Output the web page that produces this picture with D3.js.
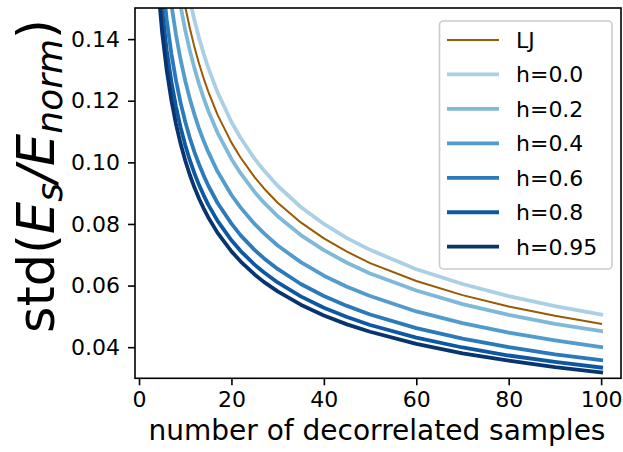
<!DOCTYPE html>
<html>
<head>
<meta charset="utf-8">
<script src="https://cdn.jsdelivr.net/npm/d3@7/dist/d3.min.js"></script>
<style>
  html, body { margin: 0; padding: 0; background: #fff; }
  svg { display: block; font-family: "DejaVu Sans", sans-serif; }
</style>
</head>
<body>
<svg id="chart" width="623" height="452"></svg>
<script>
// Number of decorrelated samples at which each curve is sampled
const samples = [4, 5, 6, 7, 8, 9, 10, 11, 12, 13, 14, 15, 17, 20, 22, 25, 27, 30, 35, 40, 45, 50, 60, 70, 80, 90, 100];

// std(E_s / E_norm) for each series
const lj   = [0.238, 0.2129, 0.1943, 0.1799, 0.1683, 0.1587, 0.1505, 0.1435, 0.1374, 0.1320, 0.1272, 0.1229, 0.1154, 0.1064, 0.1015, 0.0952, 0.0916, 0.0869, 0.0805, 0.0753, 0.0710, 0.0673, 0.0615, 0.0569, 0.0532, 0.0502, 0.0476];
const h000 = [0.253, 0.2263, 0.2066, 0.1912, 0.1789, 0.1687, 0.1600, 0.1526, 0.1461, 0.1403, 0.1352, 0.1306, 0.1227, 0.1131, 0.1079, 0.1012, 0.0974, 0.0924, 0.0855, 0.0800, 0.0754, 0.0716, 0.0653, 0.0605, 0.0566, 0.0533, 0.0506];
const h020 = [0.226, 0.2021, 0.1845, 0.1708, 0.1598, 0.1507, 0.1429, 0.1363, 0.1305, 0.1254, 0.1208, 0.1167, 0.1096, 0.1011, 0.0964, 0.0904, 0.0870, 0.0825, 0.0764, 0.0715, 0.0674, 0.0639, 0.0584, 0.0540, 0.0505, 0.0476, 0.0452];
const h040 = [0.200, 0.1789, 0.1633, 0.1512, 0.1414, 0.1333, 0.1265, 0.1206, 0.1155, 0.1109, 0.1069, 0.1033, 0.0970, 0.0894, 0.0853, 0.0800, 0.0770, 0.0730, 0.0676, 0.0632, 0.0596, 0.0566, 0.0516, 0.0478, 0.0447, 0.0422, 0.0400];
const h060 = [0.179, 0.1601, 0.1462, 0.1353, 0.1266, 0.1193, 0.1132, 0.1079, 0.1033, 0.0993, 0.0957, 0.0924, 0.0868, 0.0801, 0.0763, 0.0716, 0.0689, 0.0654, 0.0605, 0.0566, 0.0534, 0.0506, 0.0462, 0.0428, 0.0400, 0.0377, 0.0358];
const h080 = [0.167, 0.1494, 0.1364, 0.1262, 0.1181, 0.1113, 0.1056, 0.1007, 0.0964, 0.0926, 0.0893, 0.0862, 0.0810, 0.0747, 0.0712, 0.0668, 0.0643, 0.0610, 0.0565, 0.0528, 0.0498, 0.0472, 0.0431, 0.0399, 0.0373, 0.0352, 0.0334];
const h095 = [0.159, 0.1422, 0.1298, 0.1202, 0.1124, 0.1060, 0.1006, 0.0959, 0.0918, 0.0882, 0.0850, 0.0821, 0.0771, 0.0711, 0.0678, 0.0636, 0.0612, 0.0581, 0.0538, 0.0503, 0.0474, 0.0450, 0.0411, 0.0380, 0.0356, 0.0335, 0.0318];

const seriesNames  = ["LJ", "h=0.0", "h=0.2", "h=0.4", "h=0.6", "h=0.8", "h=0.95"];
const seriesValues = [lj, h000, h020, h040, h060, h080, h095];
const seriesColors = ["#9b5a02", "#abd0e6", "#7fb9da", "#519ccc", "#2b79b9", "#0e58a2", "#08346f"];
const seriesWidths = [2, 3.8, 3.8, 3.8, 3.8, 3.8, 3.8];

const xTicks = [0, 20, 40, 60, 80, 100];
const yTicks = [0.04, 0.06, 0.08, 0.10, 0.12, 0.14];

const svg = d3.select("#chart");
const plotLeft = 135, plotRight = 621, plotTop = 8, plotBottom = 378.3;

const x = d3.scaleLinear().domain([-0.87, 104.3]).range([plotLeft, plotRight]);
const y = d3.scaleLinear().domain([0.0299, 0.1501]).range([plotBottom, plotTop]);

svg.append("defs").append("clipPath").attr("id", "plotClip")
  .append("rect").attr("x", plotLeft).attr("y", plotTop)
  .attr("width", plotRight - plotLeft).attr("height", plotBottom - plotTop);

const line = d3.line()
  .x((d, i) => x(samples[i]))
  .y(d => y(d));

// Draw the blues first (lightest to darkest), then LJ on top
const order = [1, 2, 3, 4, 5, 6, 0];
const plot = svg.append("g").attr("clip-path", "url(#plotClip)");
order.forEach(k => {
  plot.append("path")
    .datum(seriesValues[k])
    .attr("d", line)
    .attr("fill", "none")
    .attr("stroke", seriesColors[k])
    .attr("stroke-width", seriesWidths[k])
    .attr("stroke-linecap", "square")
    .attr("stroke-linejoin", "round");
});

// Axes
const xAxis = d3.axisBottom(x).tickValues(xTicks).tickSize(7).tickPadding(6).tickFormat(d3.format("d"));
const yAxis = d3.axisLeft(y).tickValues(yTicks).tickSize(7).tickPadding(8).tickFormat(d3.format(".2f"));

const gx = svg.append("g").attr("transform", `translate(0,${plotBottom})`).call(xAxis);
const gy = svg.append("g").attr("transform", `translate(${plotLeft},0)`).call(yAxis);
[gx, gy].forEach(g => {
  g.select(".domain").remove();
  g.selectAll(".tick line").attr("stroke", "#000").attr("stroke-width", 1.6);
  g.selectAll(".tick text").attr("fill", "#000").style("font-size", "22px").style("font-family", "DejaVu Sans");
});

// Spines
svg.append("rect")
  .attr("x", plotLeft).attr("y", plotTop)
  .attr("width", plotRight - plotLeft).attr("height", plotBottom - plotTop)
  .attr("fill", "none").attr("stroke", "#000").attr("stroke-width", 1.6);

// Axis labels
svg.append("text")
  .attr("x", (plotLeft + plotRight) / 2 - 1).attr("y", 440)
  .attr("text-anchor", "middle")
  .style("font-size", "28px")
  .text("number of decorrelated samples");

const yl = svg.append("text")
  .attr("transform", `translate(54,176) rotate(-90)`)
  .attr("text-anchor", "middle")
  .style("font-size", "51px");
yl.append("tspan").text("std(");
yl.append("tspan").attr("font-style", "italic").text("E");
yl.append("tspan").attr("font-style", "italic").attr("font-size", "36px").attr("dy", 8).text("s");
yl.append("tspan").attr("font-style", "italic").attr("dy", -8).text("/E");
yl.append("tspan").attr("font-style", "italic").attr("font-size", "36px").attr("dy", 8).text("norm");
yl.append("tspan").attr("dy", -8).text(")");

// Legend
const lg = svg.append("g");
lg.append("rect")
  .attr("x", 439.5).attr("y", 21).attr("width", 172.5).attr("height", 248)
  .attr("rx", 4).attr("ry", 4)
  .attr("fill", "#fff").attr("fill-opacity", 0.8)
  .attr("stroke", "#cccccc").attr("stroke-width", 1.6);

seriesNames.forEach((name, k) => {
  const cy = 40 + k * 34.45;
  lg.append("line")
    .attr("x1", 447).attr("x2", 499)
    .attr("y1", cy).attr("y2", cy)
    .attr("stroke", seriesColors[k])
    .attr("stroke-width", seriesWidths[k]);
  lg.append("text")
    .attr("x", 516).attr("y", cy + 8)
    .style("font-size", "22px")
    .text(name);
});
</script>
</body>
</html>
